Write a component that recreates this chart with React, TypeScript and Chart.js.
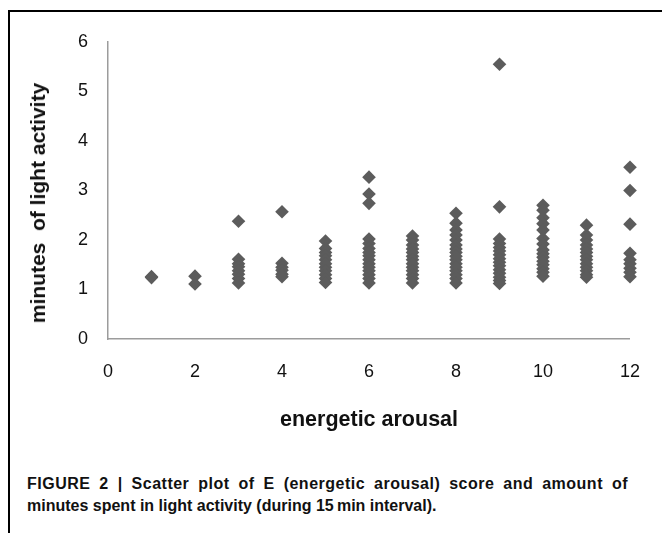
import React, { useEffect, useRef } from "react";
import { Chart, registerables } from "chart.js";

Chart.register(...registerables);

// energetic arousal score (x) and minutes of light activity observed at each score (y)
const arousalScores: number[] = [1, 2, 3, 4, 5, 6, 7, 8, 9, 10, 11, 12];
const lightMinutes: number[][] = [
  [1.26, 1.24],
  [1.27, 1.11],
  [2.38, 1.61, 1.52, 1.46, 1.38, 1.31, 1.22, 1.13],
  [2.57, 1.53, 1.45, 1.39, 1.31, 1.26],
  [1.98, 1.83, 1.75, 1.68, 1.6, 1.52, 1.45, 1.38, 1.3, 1.22, 1.14],
  [3.27, 2.93, 2.74, 2.02, 1.93, 1.83, 1.75, 1.68, 1.6, 1.52, 1.45, 1.38, 1.3, 1.22, 1.13],
  [2.08, 2.0, 1.9, 1.82, 1.75, 1.67, 1.6, 1.52, 1.45, 1.38, 1.3, 1.22, 1.13],
  [2.54, 2.34, 2.2, 2.1, 2.0, 1.9, 1.82, 1.75, 1.67, 1.6, 1.52, 1.45, 1.38, 1.3, 1.22, 1.13],
  [5.55, 2.67, 2.02, 1.93, 1.85, 1.78, 1.7, 1.62, 1.55, 1.48, 1.4, 1.33, 1.25, 1.18, 1.12],
  [2.7, 2.6, 2.45, 2.33, 2.2, 2.03, 1.92, 1.8, 1.72, 1.65, 1.57, 1.5, 1.42, 1.35, 1.27],
  [2.3, 2.1, 2.0, 1.9, 1.82, 1.75, 1.67, 1.6, 1.52, 1.45, 1.38, 1.3, 1.25],
  [3.47, 3.0, 2.32, 1.73, 1.6, 1.52, 1.43, 1.35, 1.26],
];

const xMin = 0;
const xMax = 12;
const xStep = 2;
const yMin = 0;
const yMax = 6;
const yStep = 1;

const xTitle = "energetic arousal";
const yTitle = "minutes  of light activity";
const captionLines: string[] = [
  "FIGURE 2 | Scatter plot of E (energetic arousal) score and amount of",
  "minutes spent in light activity (during 15\u2009min interval).",
];

const FONT = "'Liberation Sans', Arial, Helvetica, sans-serif";

export default function App() {
  const canvasRef = useRef<HTMLCanvasElement | null>(null);

  useEffect(() => {
    const canvas = canvasRef.current;
    if (!canvas) return;
    const points = arousalScores.flatMap((score, i) =>
      lightMinutes[i].map((m) => ({ x: score, y: m }))
    );
    const chart = new Chart(canvas, {
      type: "scatter",
      data: {
        datasets: [
          {
            data: points,
            pointStyle: "rectRot",
            pointRadius: 6.8,
            pointHoverRadius: 6.8,
            backgroundColor: "#5c5c5c",
            borderWidth: 0,
            clip: false,
          } as any,
        ],
      },
      options: {
        animation: false,
        responsive: false,
        events: [],
        layout: { padding: { left: 0, top: 42, right: 24, bottom: 0 } },
        plugins: { legend: { display: false }, tooltip: { enabled: false } },
        scales: {
          x: {
            type: "linear",
            min: xMin,
            max: xMax,
            ticks: {
              stepSize: xStep,
              color: "#111",
              font: { family: FONT, size: 18 },
              padding: 22,
            },
            grid: { display: false, drawTicks: false },
            border: { display: true, color: "#9c9c9c", width: 1.5 },
            title: {
              display: true,
              text: xTitle,
              color: "#111",
              font: { family: FONT, size: 21.5, weight: "bold" },
              padding: { top: 0, bottom: 7 },
            },
            afterFit: (s: any) => {
              s.height = 101;
            },
          },
          y: {
            type: "linear",
            min: yMin,
            max: yMax,
            ticks: {
              stepSize: yStep,
              color: "#111",
              font: { family: FONT, size: 18 },
              padding: 20,
            },
            grid: { display: false, drawTicks: false },
            border: { display: true, color: "#9c9c9c", width: 1.5 },
            title: { display: false },
            afterFit: (s: any) => {
              s.width = 108;
            },
          },
        },
      },
    });
    return () => chart.destroy();
  }, []);

  return (
    <div
      style={{
        position: "absolute",
        left: 0,
        top: 0,
        width: 662,
        height: 533,
        overflow: "hidden",
        background: "#fff",
      }}
    >
      <div
        style={{
          position: "absolute",
          left: 8,
          top: 10,
          width: 800,
          height: 700,
          borderLeft: "2px solid #000",
          borderTop: "2px solid #000",
        }}
      />
      <canvas
        ref={canvasRef}
        width={662}
        height={440}
        style={{ position: "absolute", left: 0, top: 0, width: 662, height: 440 }}
      />
      <div
        style={{
          position: "absolute",
          left: 38,
          top: 203,
          transform: "translate(-50%, -50%) rotate(-90deg)",
          whiteSpace: "pre",
          fontFamily: FONT,
          fontWeight: "bold",
          fontSize: 21,
          lineHeight: "24px",
          color: "#111",
        }}
      >
        {yTitle}
      </div>
      <div
        style={{
          position: "absolute",
          left: 27,
          top: 473,
          width: 601,
          fontFamily: FONT,
          fontWeight: "bold",
          fontSize: 16,
          lineHeight: "22px",
          color: "#111",
        }}
      >
        {captionLines.map((l, i) => {
          const isLast = i === captionLines.length - 1;
          return (
            <div
              key={i}
              style={{
                textAlign: "justify",
                textAlignLast: isLast ? "left" : "justify",
                letterSpacing: isLast ? 0 : "0.5px",
                whiteSpace: "normal",
              }}
            >
              {l}
            </div>
          );
        })}
      </div>
    </div>
  );
}
